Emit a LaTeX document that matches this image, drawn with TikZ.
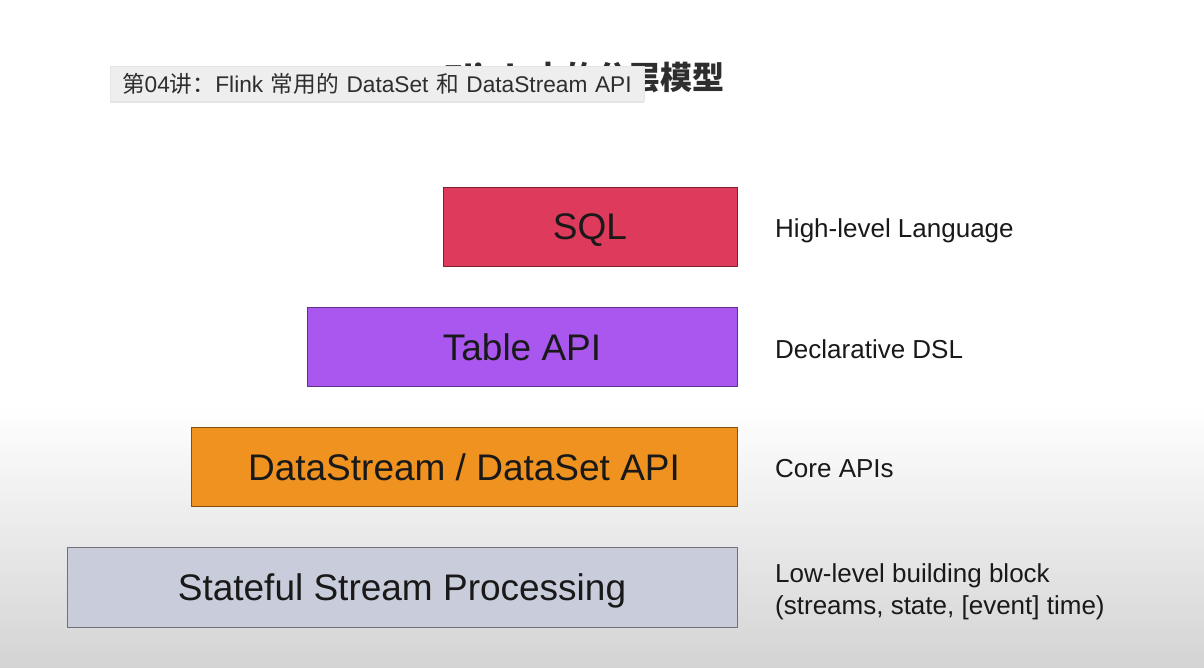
\documentclass[tikz,border=0pt]{standalone}
\usepackage{fontspec}
\setmainfont{Liberation Sans}
\newfontfamily\cjkfont{Noto Sans CJK SC}
\usetikzlibrary{shadows}
\definecolor{sqlred}{HTML}{DE3A5B}
\definecolor{tablepurple}{HTML}{A957EE}
\definecolor{coreorange}{HTML}{EF921F}
\definecolor{lowgray}{HTML}{C9CCDA}
\definecolor{tipgray}{HTML}{EEEEEE}
\definecolor{titlegray}{HTML}{2E2E2E}
\newcommand{\zh}[1]{{\cjkfont #1}}
\tikzset{
  layer/.style={draw=#1!55!black,fill=#1,inner sep=0pt,minimum height=79pt,
    text height=27pt,text depth=0pt,font=\fontsize{37}{40}\selectfont,text=black!90},
  note/.style={anchor=base west,inner sep=0pt,font=\fontsize{26}{32}\selectfont,
    align=left,text=black!90}
}
\begin{document}
\begin{tikzpicture}[x=1pt,y=-1pt,line join=round]
	\useasboundingbox (0,0) rectangle (1204,668);
	% background
	\fill[white] (0,0) rectangle (1204,405);
	\shade[top color=white,bottom color=black!17] (0,405) rectangle (1204,668);
	% title and the tooltip over it
	\node[anchor=east,inner sep=0pt,text=titlegray,
		font=\cjkfont\bfseries\fontsize{32}{36}\selectfont] (title) at (725,78) {Flink 中的分层模型};
	\node[draw=black!10,fill=tipgray,inner sep=0pt,minimum width=534pt,minimum height=35pt,
		text width=510pt,align=left,
		drop shadow={shadow xshift=0pt,shadow yshift=-2pt,opacity=.2},
		text=black!82,font=\fontsize{22.7}{24}\selectfont] (tip) at (377,83.5)
		{\zh{第}04\zh{讲：}Flink \zh{常用的} DataSet \zh{和} DataStream API};
	% layers
	\node[layer=sqlred,minimum width=294pt] (sql) at (590,226.5) {SQL};
	\node[layer=tablepurple,minimum width=430pt] (table) at (522,346.5) {Table API};
	\node[layer=coreorange,minimum width=546pt] (core) at (464,466.5) {DataStream / DataSet API};
	\node[layer=lowgray,minimum width=670pt,minimum height=80pt] (stateful) at (402,587) {Stateful Stream Processing};
	% descriptions
	\node[note] (sqlnote) at (775,238) {High-level Language};
	\node[note] (tablenote) at (775,358) {Declarative DSL};
	\node[note] (corenote) at (775,477) {Core APIs};
	\node[note] (statefulnote) at (775,614) {Low-level building block\\(streams, state, [event] time)};
\end{tikzpicture}
\end{document}
